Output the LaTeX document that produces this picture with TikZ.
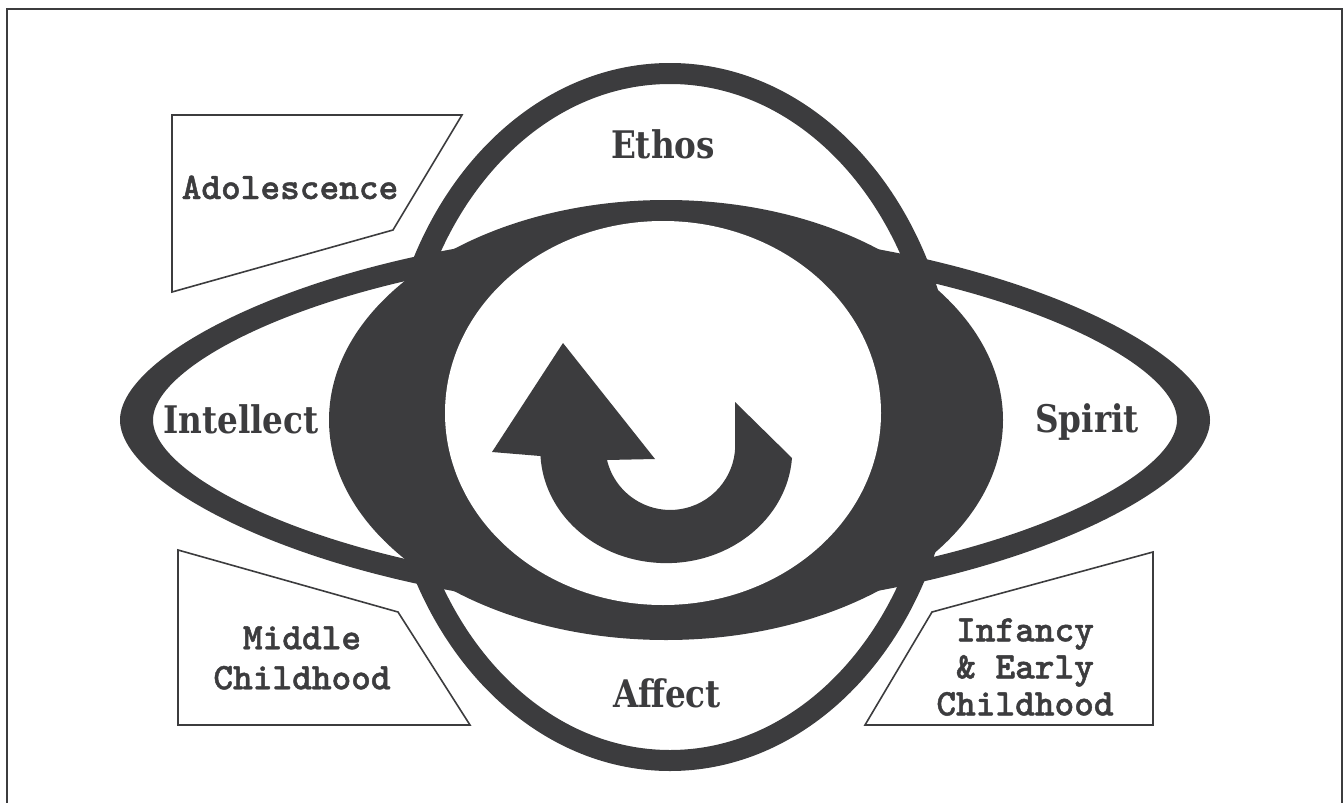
\documentclass[tikz,border=0pt]{standalone}
\usepackage{fontspec}
\newfontfamily\mainlab[FakeStretch=0.86]{DejaVu Serif}
\newfontfamily\boxlab[FakeBold=1.2]{lmmonolt10-bold.otf}
\definecolor{ink}{RGB}{60,60,62}
\begin{document}
\begin{tikzpicture}[x=1pt,y=-1pt,
  frame/.style={draw=ink, line width=2pt},
  stagebox/.style={draw=ink, line width=1.6pt, fill=white, line join=miter},
  darkfill/.style={fill=ink, even odd rule},
  mainlabel/.style={text=ink, font=\mainlab\bfseries\fontsize{38}{40}\selectfont, inner sep=0pt, anchor=base},
  boxlabel/.style={text=ink, font=\boxlab\fontsize{37.5}{40}\selectfont, inner sep=0pt, align=center}]
\useasboundingbox (0,0) rectangle (1344,803);
% frame
\draw[frame] (7,803) -- (7,9) -- (1342,9) -- (1342,803);
% stage boxes
\draw[stagebox] (172,115) -- (462,115) -- (393,230) -- (172,292) -- cycle;
\draw[stagebox] (178,550) -- (398,612) -- (470,725) -- (178,725) -- cycle;
\draw[stagebox] (1153,552) -- (1153,725) -- (865,725) -- (932,612) -- cycle;
% horizontal ring
\fill[darkfill]
  (120,420) .. controls (120,344) and (365,230) .. (665,230)
            .. controls (965,230) and (1210,344) .. (1210,420)
            .. controls (1210,496) and (965,610) .. (665,610)
            .. controls (365,610) and (120,496) .. (120,420) -- cycle
  (153,420) .. controls (153,353) and (383,252) .. (665,252)
            .. controls (947,252) and (1177,353) .. (1177,420)
            .. controls (1177,487) and (947,588) .. (665,588)
            .. controls (383,588) and (153,487) .. (153,420) -- cycle;
% vertical ring
\fill[darkfill] (670,417) ellipse [x radius=287, y radius=354]
                (670,417) ellipse [x radius=264, y radius=333];
% central dark disc and white core
\fill[ink] (666,420) ellipse [x radius=337, y radius=220];
\fill[white] (663,413) ellipse [x radius=218, y radius=192];
% curved arrow
\fill[ink] (563,343) -- (655,459) -- (607,460)
  arc[start angle=166.6, end angle=-4.5, radius=65] -- (735,402) -- (792,458)
  arc[start angle=4, end angle=177, x radius=126, y radius=113] -- (492,452) -- cycle;
% labels
\node[mainlabel] (ethos) at (663,158) {Ethos};
\node[mainlabel] (intel) at (241,433) {Intellect};
\node[mainlabel] (spirit) at (1087,432) {Spirit};
\node[mainlabel] (affect) at (667,707) {Affect};
\node[boxlabel, anchor=base] (adol) at (290,199) {Adolescence};
\node[boxlabel] (midc) at (302,658) {Middle\\Childhood};
\node[boxlabel, font=\boxlab\fontsize{37.5}{37}\selectfont] (infc) at (1025,667) {Infancy\\\& Early\\Childhood};
\end{tikzpicture}
\end{document}
